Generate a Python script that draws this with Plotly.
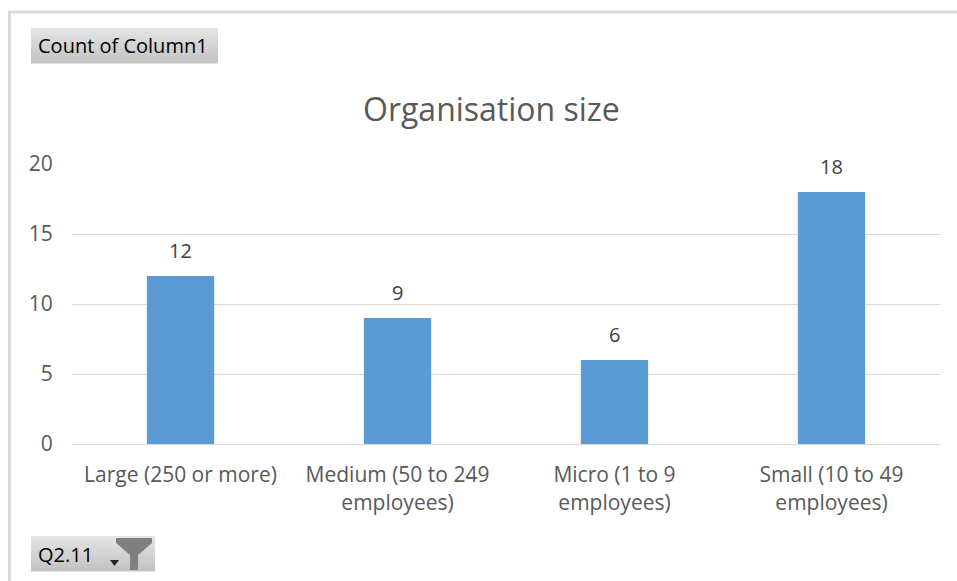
import plotly.graph_objects as go

categories = ["Large (250 or more)", "Medium (50 to 249<br>employees)",
              "Micro (1 to 9<br>employees)", "Small (10 to 49<br>employees)"]
counts = [12, 9, 6, 18]
y_ticks = [0, 5, 10, 15, 20]

W, H = 957, 581
L, R, T, B = 72, 940, 164, 444  # plot area in pixels


def px(x):
    return (x - L) / (R - L)


def py(y):
    return (B - y) / (B - T)


FONT = "Open Sans"

fig = go.Figure(go.Bar(
    x=categories, y=counts,
    marker=dict(color="#5b9bd5", line=dict(width=0)),
    width=0.31,
    hoverinfo="x+y",
))

shapes = []
# outer frame (left and top edges only; the rest runs off the picture)
shapes.append(dict(type="path", xref="paper", yref="paper",
                   path="M %f,%f L %f,%f L %f,%f" % (px(9.5), py(600), px(9.5), py(12),
                                                     px(960), py(12)),
                   line=dict(color="#d9d9d9", width=3), layer="below"))


def button(x0, y0, x1, y1):
    n = 10
    top = (228, 228, 228)
    bot = (196, 196, 196)
    for i in range(n):
        t = i / (n - 1)
        c = tuple(int(top[k] + (bot[k] - top[k]) * t) for k in range(3))
        ya = y0 + (y1 - y0) * i / n
        yb = y0 + (y1 - y0) * (i + 1) / n + 0.5
        shapes.append(dict(type="rect", xref="paper", yref="paper",
                           x0=px(x0), x1=px(x1), y0=py(ya), y1=py(yb),
                           line=dict(width=0), fillcolor="rgb(%d,%d,%d)" % c,
                           layer="above"))


button(31, 28, 218, 63)
button(31, 536, 155, 571)


def pth(points):
    return "M " + " L ".join("%f,%f" % (px(a), py(b)) for a, b in points) + " Z"


# funnel icon
shapes.append(dict(type="path", xref="paper", yref="paper",
                   path=pth([(116, 538), (152, 538), (152, 543), (138, 555),
                             (138, 570), (130, 570), (130, 555), (116, 543)]),
                   fillcolor="#7f7f7f", line=dict(width=0)))
shapes.append(dict(type="path", xref="paper", yref="paper",
                   path=pth([(110, 560), (119, 560), (114.5, 566)]),
                   fillcolor="#262626", line=dict(width=0)))

annotations = [
    dict(text="Count of Column1", xref="paper", yref="paper",
         x=px(36), y=py(46), xanchor="left", yanchor="middle",
         showarrow=False, font=dict(family=FONT, size=20, color="#000000")),
    dict(text="Q2.11", xref="paper", yref="paper",
         x=px(36), y=py(554), xanchor="left", yanchor="middle",
         showarrow=False, font=dict(family=FONT, size=20, color="#000000")),
    dict(text="Organisation size", xref="paper", yref="paper",
         x=px(491), y=py(108), xanchor="center", yanchor="middle",
         showarrow=False, font=dict(family=FONT, size=32, color="#595959")),
]
# data labels
for c, v in zip(categories, counts):
    annotations.append(dict(text=str(v), x=c, y=v, xref="x", yref="y",
                            xanchor="center", yanchor="middle", yshift=26,
                            showarrow=False,
                            font=dict(family=FONT, size=20, color="#404040")))

fig.update_layout(
    width=W, height=H,
    margin=dict(l=L, r=W - R, t=T, b=H - B, pad=0),
    paper_bgcolor="white", plot_bgcolor="white",
    showlegend=False,
    shapes=shapes,
    annotations=annotations,
    xaxis=dict(showgrid=False, showline=True, linecolor="#d9d9d9", linewidth=1,
               ticks="outside", ticklen=12, tickcolor="rgba(0,0,0,0)",
               tickfont=dict(family=FONT, size=21, color="#595959"),
               fixedrange=True),
    yaxis=dict(range=[0, 20], tickvals=y_ticks, showgrid=True,
               gridcolor="#d9d9d9", gridwidth=1, zeroline=False,
               showline=False, ticks="outside", ticklen=14,
               tickcolor="rgba(0,0,0,0)",
               tickfont=dict(family=FONT, size=21, color="#595959"),
               fixedrange=True),
)

fig.write_html("out.html", config={"displayModeBar": False},
               post_script="document.body.style.margin='0';"
                           "document.body.style.overflow='hidden';")
